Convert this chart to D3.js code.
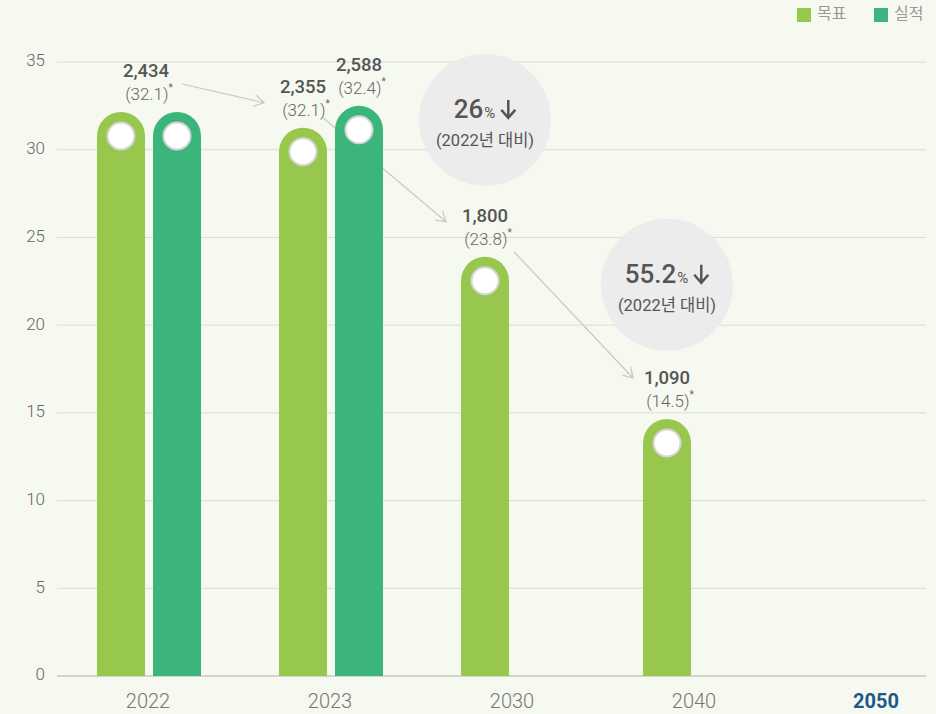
<html><head>
  <meta charset="utf-8">
  <script src="https://d3js.org/d3.v7.min.js"></script>
  <style>
    body { margin:0; background:#f6f9f0; }
    text { font-family:Roboto,"Noto Sans CJK KR","Noto Sans",sans-serif; }
  </style>
</head>
<body>
<svg id="chart" width="936" height="714"></svg>
<script>
  // categories and values
  const years = ["2022","2023","2030","2040","2050"];
  const yTicks = [0,5,10,15,20,25,30,35];
  // bar heights as drawn
  const targetBars = [{"year":"2022","v":32.15},{"year":"2023","v":31.25},{"year":"2030","v":23.9},{"year":"2040","v":14.65}];
  const actualBars = [{"year":"2022","v":32.15},{"year":"2023","v":32.5}];
  // value labels: which bar they sit on
  const labels = [
    {"year":"2022","kind":"both","num":"2,434","sub":"32.1","v":32.15},
    {"year":"2023","kind":"target","num":"2,355","sub":"32.1","v":31.25},
    {"year":"2023","kind":"actual","num":"2,588","sub":"32.4","v":32.5},
    {"year":"2030","kind":"target","num":"1,800","sub":"23.8","v":23.9},
    {"year":"2040","kind":"target","num":"1,090","sub":"14.5","v":14.65}
  ];
  const badges = [
    {"year":"2030","v":31.7,"pct":"26"},
    {"year":"2040","v":22.3,"pct":"55.2"}
  ];
  const legendItems = [{"name":"목표","color":"#97c84d"},{"name":"실적","color":"#3bb57b"}];

  const colTarget = "#97c84d", colActual = "#3bb57b";

  let svg = d3.select("svg#chart");

  let x = d3.scaleBand().domain(years).range([57,967]);
  let y = d3.scaleLinear().domain([0,35]).range([676,62]);
  const bw = 48;

  function barX(d, kind) {
    let c = x(d) + x.bandwidth()/2;
    if (kind == "target") return c - 51;
    if (kind == "actual") return c + 5;
    return c - 27;
  }

  // grid
  yTicks.forEach(t => {
    svg.append("line")
       .attr("x1",57).attr("x2",926)
       .attr("y1",y(t)).attr("y2",y(t))
       .style("stroke", t == 0 ? "#d2d5cd" : "#dadcd4")
       .style("stroke-width", t == 0 ? 2 : 1);
    svg.append("text")
       .text(t)
       .attr("x",45).attr("y",y(t))
       .style("text-anchor","end")
       .style("dominant-baseline","middle")
       .style("font-size","17px")
       .style("font-weight","300")
       .style("fill","#666");
  });

  // x labels
  years.forEach(d => {
    svg.append("text")
       .text(d)
       .attr("x",x(d) + x.bandwidth()/2)
       .attr("y",703)
       .style("text-anchor","middle")
       .style("dominant-baseline","middle")
       .style("font-size", "20px")
       .style("font-weight", d == "2050" ? "bold" : "300")
       .style("fill", d == "2050" ? "#1b5a8a" : "#777");
  });

  // badges
  badges.forEach(b => {
    let cx = barX(b.year,"target") + bw/2, cy = y(b.v);
    svg.append("circle").attr("cx",cx).attr("cy",cy).attr("r",66).style("fill","#ececec");
    let t = svg.append("text").attr("y",cy - 2)
       .style("text-anchor","start").style("fill","#555");
    t.append("tspan").text(b.pct).style("font-size","26px").style("font-weight","500");
    t.append("tspan").text("%").style("font-size","15px").attr("dx",1);
    let tw = t.node().getComputedTextLength();
    let total = tw + 22;
    let x0 = cx - total/2;
    t.attr("x",x0);
    let ax = x0 + tw + 14;
    svg.append("path")
       .attr("d",`M${ax},${cy-20} V${cy-3} M${ax-7},${cy-10} L${ax},${cy-2} L${ax+7},${cy-10}`)
       .style("fill","none").style("stroke","#555").style("stroke-width",2.5);
    svg.append("text").text("(2022년 대비)")
       .attr("x",cx).attr("y",cy + 26)
       .style("text-anchor","middle").style("font-size","16.5px").style("fill","#555");
  });

  // label anchor points
  function labelX(l) { return l.kind == "both" ? x(l.year) + x.bandwidth()/2 - 2 : barX(l.year,l.kind) + bw/2; }

  // arrows between labels
  const arrows = [
    [labelX(labels[0]) + 36, y(labels[0].v) - 28, labelX(labels[1]) - 39, y(labels[1].v) - 25],
    [labelX(labels[1]) + 20, y(labels[1].v) - 10, labelX(labels[3]) - 39, y(labels[3].v) - 35],
    [labelX(labels[3]) + 29, y(labels[3].v) - 5, labelX(labels[4]) - 34, y(labels[4].v) - 41]
  ];
  arrows.forEach(a => {
    let ang = Math.atan2(a[3]-a[1], a[2]-a[0]);
    let h = 11;
    let p1 = [a[2] - h*Math.cos(ang - 0.55), a[3] - h*Math.sin(ang - 0.55)];
    let p2 = [a[2] - h*Math.cos(ang + 0.55), a[3] - h*Math.sin(ang + 0.55)];
    svg.append("path")
       .attr("d",`M${a[0]},${a[1]} L${a[2]},${a[3]} M${p1[0]},${p1[1]} L${a[2]},${a[3]} L${p2[0]},${p2[1]}`)
       .style("fill","none").style("stroke","#c8c8c8").style("stroke-width",1.2);
  });

  // bars with round tops
  function barPath(xx, v) {
    let top = y(v), r = bw/2, bot = y(0);
    return `M${xx},${bot} V${top + r} A${r},${r} 0 0 1 ${xx + bw},${top + r} V${bot} Z`;
  }
  function drawBars(data, kind, color) {
    data.forEach(d => {
      let xx = barX(d.year, kind);
      svg.append("path").attr("d",barPath(xx, d.v)).style("fill",color);
      svg.append("circle")
         .attr("cx",xx + bw/2).attr("cy",y(d.v) + bw/2).attr("r",13.5)
         .style("fill","#fff").style("stroke","#d6d6d6").style("stroke-width",2);
    });
  }
  drawBars(targetBars,"target",colTarget);
  drawBars(actualBars,"actual",colActual);

  // value labels
  labels.forEach(l => {
    let lx = labelX(l), top = y(l.v);
    svg.append("text").text(l.num)
       .attr("x",lx).attr("y",top - 35)
       .style("text-anchor","middle").style("font-size","18.5px").style("font-weight","500").style("fill","#555");
    let t = svg.append("text").attr("x",lx + 3).attr("y",top - 12)
       .style("text-anchor","middle").style("fill","#666");
    t.append("tspan").text("(" + l.sub + ")").style("font-size","17px").style("font-weight","300");
    t.append("tspan").text("*").attr("dy",-9).style("font-size","10px");
  });

  // legend
  legendItems.forEach((d,i) => {
    let lx = 797 + i*77;
    svg.append("rect").attr("x",lx).attr("y",8).attr("width",14).attr("height",14).style("fill",d.color);
    svg.append("text").text(d.name).attr("x",lx + 20).attr("y",15)
       .style("dominant-baseline","middle").style("font-size","16px").style("fill","#999");
  });
</script>
</body>
</html>
